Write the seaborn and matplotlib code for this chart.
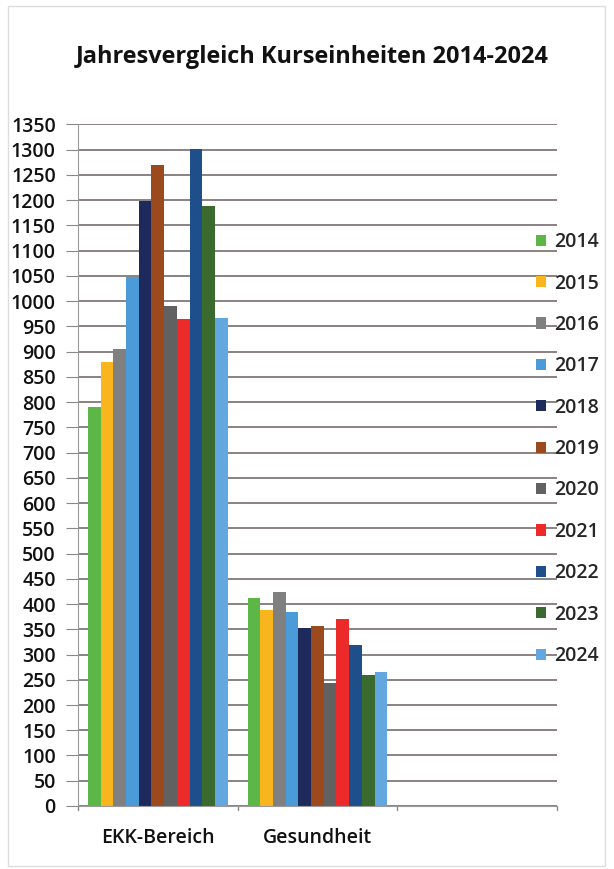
import matplotlib
matplotlib.use("Agg")
import matplotlib.pyplot as plt
import seaborn as sns
import pandas as pd
from matplotlib.patches import Rectangle

categories = ["EKK-Bereich", "Gesundheit", " "]
years = ["2014", "2015", "2016", "2017", "2018", "2019", "2020", "2021", "2022", "2023", "2024"]
ekk_values = [790, 880, 905, 1048, 1198, 1270, 990, 964, 1302, 1188, 966]
gesundheit_values = [412, 389, 423, 385, 352, 356, 243, 370, 319, 259, 265]
colors = ["#5cb746", "#f9b51e", "#808080", "#4b9bd9", "#1f2a5c", "#9b4a1e",
          "#616161", "#ec2a2a", "#1e4f8b", "#3b6a2f", "#63a7e0"]
yticks = list(range(0, 1351, 50))

rows = []
for y, v in zip(years, ekk_values):
    rows.append({"Kategorie": categories[0], "Jahr": y, "Wert": v})
for y, v in zip(years, gesundheit_values):
    rows.append({"Kategorie": categories[1], "Jahr": y, "Wert": v})
df = pd.DataFrame(rows)

sns.set_style("white")
plt.rcParams["font.family"] = ["Open Sans", "DejaVu Sans"]

fig = plt.figure(figsize=(6.14, 8.69), dpi=100)
ax = fig.add_axes([0.127, 0.0725, 0.78, 0.7845])

sns.barplot(data=df, x="Kategorie", y="Wert", hue="Jahr", order=categories,
            hue_order=years, palette=colors, width=0.875, saturation=1,
            linewidth=0, ax=ax, legend=True)

ax.set_xlim(-0.5, 2.5)
ax.set_ylim(0, 1350)
ax.set_yticks(yticks)
ax.set_yticklabels([str(t) for t in yticks], fontsize=14, fontweight="semibold", color="#111111")
ax.yaxis.grid(True, color="#6b6060", linewidth=1.1)
ax.set_axisbelow(True)
ax.set_xlabel("")
ax.set_ylabel("")
ax.set_xticks([0, 1])
ax.set_xticklabels(categories[:2], fontsize=14, fontweight="semibold", color="#111111")
ax.tick_params(axis="x", length=0, pad=16)
ax.tick_params(axis="y", length=9, color="#888888", direction="out", left=True, pad=7)
for b in [-0.5, 0.5, 1.5, 2.5]:
    ax.plot([b, b], [0, -8], color="#888888", lw=1, clip_on=False)
for s in ["top", "right"]:
    ax.spines[s].set_visible(False)
ax.spines["left"].set_color("#999999")
ax.spines["bottom"].set_color("#999999")

handles, labels = ax.get_legend_handles_labels()
ax.get_legend().remove()
leg = fig.legend(handles, labels, loc="upper left", bbox_to_anchor=(0.845, 0.753),
                 frameon=False, labelspacing=1.1, handlelength=0.5,
                 handleheight=0.5, handletextpad=0.4,
                 prop={"size": 14, "weight": "semibold"})

fig.text(0.509, 0.934, "Jahresvergleich Kurseinheiten 2014-2024", ha="center", va="center",
         fontsize=16.9, fontweight="bold", color="#111111")

fig.patches.append(Rectangle((0.013, 0.003), 0.972, 0.99, transform=fig.transFigure,
                             fill=False, edgecolor="#dddddd", linewidth=1))

fig.savefig("out.png", dpi=100)
